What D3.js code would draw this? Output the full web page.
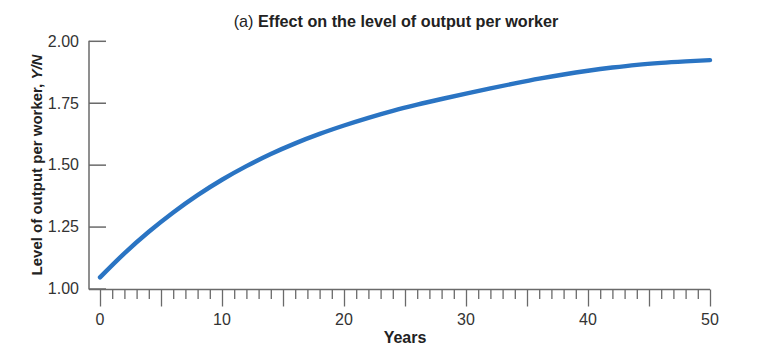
<!DOCTYPE html>
<html>
<head>
<script src="https://cdnjs.cloudflare.com/ajax/libs/d3/7.8.5/d3.min.js"></script>
<style>
  body { margin: 0; background: #fff; }
  text { font-family: "Liberation Sans", Arial, sans-serif; }
</style>
</head>
<body>
<div id="vis"></div>
<script>
// values
const years = [0, 2, 4, 6, 8, 10, 12, 14, 16, 18, 20, 22, 24, 26, 28, 30, 32, 34, 36, 38, 40, 42, 44, 46, 48, 50];
const output = [1.045, 1.142, 1.229, 1.307, 1.377, 1.439, 1.494, 1.543, 1.586, 1.624, 1.658, 1.689, 1.717, 1.742, 1.765, 1.787, 1.808, 1.828, 1.847, 1.864, 1.879, 1.892, 1.903, 1.911, 1.917, 1.922];
const yTicks = [1.00, 1.25, 1.50, 1.75, 2.00];
const xMajor = [0, 10, 20, 30, 40, 50];

const svg = d3.select("#vis").append("svg")
    .attr("width", 775)
    .attr("height", 361);

const x = d3.scaleLinear().domain([0, 50]).range([100, 710]);
const y = d3.scaleLinear().domain([1, 2]).range([288.5, 40.8]);

const axisColor = "#6a6a6a";

// y axis
const yAxis = svg.append("g").attr("transform", "translate(89,0)")
    .call(d3.axisRight(y).tickValues(yTicks).tickSize(17).tickFormat(""));
yAxis.select(".domain").remove();
yAxis.selectAll("line").attr("stroke", axisColor).attr("stroke-width", 1.5);

svg.append("line")
    .attr("x1", 89).attr("x2", 89).attr("y1", y(2)).attr("y2", 289.5)
    .attr("stroke", axisColor).attr("stroke-width", 1.5);

svg.selectAll("text.ylab").data(yTicks).enter().append("text")
    .attr("class", "ylab")
    .attr("x", 79).attr("y", d => y(d) + 5.8)
    .attr("text-anchor", "end")
    .attr("font-size", 16)
    .attr("fill", "#333")
    .text(d => d.toFixed(2));

// x axis
svg.append("line")
    .attr("x1", 89).attr("x2", x(50)).attr("y1", 289.5).attr("y2", 289.5)
    .attr("stroke", axisColor).attr("stroke-width", 1.5);

const xAxis = svg.append("g").attr("transform", "translate(0,289.5)")
    .call(d3.axisBottom(x).tickValues(d3.range(0, 51)).tickSize(9.5).tickFormat(""));
xAxis.select(".domain").remove();
xAxis.selectAll(".tick line")
    .attr("stroke", axisColor).attr("stroke-width", 1.3)
    .attr("y2", d => d % 5 === 0 ? 17 : 9.5);

svg.selectAll("text.xlab").data(xMajor).enter().append("text")
    .attr("class", "xlab")
    .attr("x", d => x(d)).attr("y", 324.5)
    .attr("text-anchor", "middle")
    .attr("font-size", 16)
    .attr("fill", "#333")
    .text(d => d);

svg.append("text")
    .attr("x", 405).attr("y", 343)
    .attr("text-anchor", "middle")
    .attr("font-size", 16)
    .attr("font-weight", "bold")
    .attr("fill", "#222")
    .text("Years");

// y axis title
const yt = svg.append("text")
    .attr("transform", "translate(42,165) rotate(-90)")
    .attr("text-anchor", "middle")
    .attr("font-size", 15)
    .attr("font-weight", "bold")
    .attr("fill", "#222");
yt.append("tspan").text("Level of output per worker, ");
yt.append("tspan").attr("font-style", "italic").text("Y/N");

// title
const tt = svg.append("text")
    .attr("x", 396).attr("y", 27)
    .attr("text-anchor", "middle")
    .attr("font-size", 16.2)
    .attr("fill", "#222");
tt.append("tspan").text("(a) ");
tt.append("tspan").attr("font-weight", "bold").text("Effect on the level of output per worker");

// curve
const line = d3.line()
    .x(d => x(d[0]))
    .y(d => y(d[1]))
    .curve(d3.curveMonotoneX);

svg.append("path")
    .datum(years.map((t, i) => [t, output[i]]))
    .attr("d", line)
    .attr("fill", "none")
    .attr("stroke", "#2a74c3")
    .attr("stroke-width", 4.4)
    .attr("stroke-linecap", "round");
</script>
</body>
</html>
